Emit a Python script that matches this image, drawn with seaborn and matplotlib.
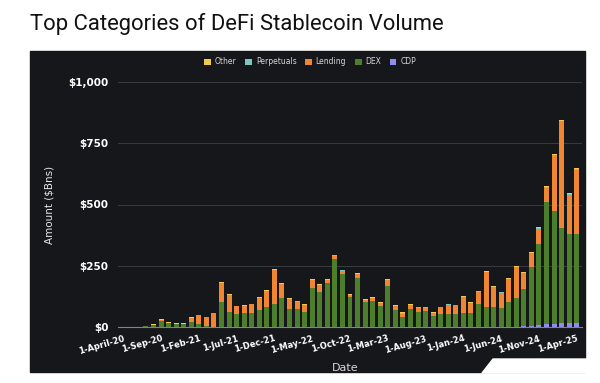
import matplotlib
matplotlib.use("Agg")
import matplotlib.pyplot as plt
from matplotlib.patches import Rectangle, Polygon
from matplotlib import font_manager
import numpy as np
import pandas as pd
import seaborn as sns

# monthly stablecoin volume by category, $Bns
months = pd.date_range("2020-04-01", "2025-04-01", freq="MS").strftime("%b-%y")
cdp = [0, 0, 0, 0, 0, 0, 0, 0, 0, 0, 0, 0, 0, 2, 0, 0, 0, 0, 0, 0,
       0, 0, 0, 0, 0, 2, 2, 1, 0, 0, 0, 0, 0, 0, 0, 0, 0, 0, 0, 0,
       0, 0, 0, 0, 0, 1, 1, 1, 1, 1, 1, 1, 2, 4, 6, 10, 12, 12, 16, 18, 16]
dex = [1, 1, 1, 3, 10, 25, 18, 13, 13, 19, 12, 4, 1, 99, 63, 53, 59, 59, 69, 80,
       93, 117, 74, 74, 61, 156, 142, 177, 278, 215, 121, 199, 102, 108, 86, 167, 69, 42, 72, 61,
       64, 45, 53, 52, 52, 56, 55, 93, 82, 82, 75, 100, 115, 151, 238, 329, 500, 462, 387, 362, 364]
lending = [0, 0, 0, 0, 0, 3, 0, 1, 1, 18, 36, 35, 57, 77, 66, 31, 26, 33, 48, 67,
           139, 57, 39, 30, 29, 34, 26, 13, 13, 15, 8, 16, 8, 9, 12, 24, 15, 13, 18, 18,
           15, 11, 27, 39, 36, 64, 43, 50, 140, 80, 64, 94, 128, 66, 58, 63, 54, 227, 437, 159, 261]
perps = [0, 0, 0, 0, 0, 0, 0, 0, 0, 0, 0, 0, 0, 1, 1, 1, 1, 1, 1, 1,
         1, 1, 1, 1, 1, 1, 1, 1, 1, 1, 1, 1, 1, 1, 1, 1, 1, 1, 1, 1,
         1, 1, 1, 1, 1, 1, 1, 1, 1, 1, 1, 1, 1, 1, 1, 2, 7, 2, 2, 3, 3]
other = [0, 0, 0, 2, 1, 3, 2, 1, 1, 2, 1, 0, 1, 3, 3, 2, 2, 2, 3, 3,
         3, 3, 3, 3, 3, 3, 3, 3, 3, 3, 3, 3, 3, 3, 3, 3, 3, 4, 4, 3,
         3, 3, 2, 2, 2, 3, 3, 3, 3, 3, 3, 3, 3, 3, 3, 3, 3, 4, 4, 4, 4]
tick_labels = ["1-April-20", "1-Sep-20", "1-Feb-21", "1-Jul-21", "1-Dec-21", "1-May-22",
               "1-Oct-22", "1-Mar-23", "1-Aug-23", "1-Jan-24", "1-Jun-24", "1-Nov-24", "1-Apr-25"]

series = ["CDP", "DEX", "Lending", "Perpetuals", "Other"]
colors = {"Other": "#f1c94c", "Perpetuals": "#7cc6c2", "Lending": "#f08632",
          "DEX": "#4c7e2c", "CDP": "#8f8cf2"}
DARK = "#16171b"

df = pd.DataFrame({"month": months, "CDP": cdp, "DEX": dex, "Lending": lending,
                   "Perpetuals": perps, "Other": other})
# cumulative tops so the layers can be overlaid as a stack
cum = df[series].cumsum(axis=1)
for s in series:
    df[s + "_top"] = cum[s]

sns.set_style("dark")
names = {f.name for f in font_manager.fontManager.ttflist}
title_font = "Liberation Sans Narrow" if "Liberation Sans Narrow" in names else "Roboto"

fig = plt.figure(figsize=(6, 3.83), dpi=100)
fig.patch.set_facecolor("white")
# dark card behind the chart, with the clipped lower-right corner of the screenshot
fig.patches.append(Rectangle((30 / 600, 11 / 383), 555 / 600, 321 / 383,
                             transform=fig.transFigure, color=DARK, zorder=-2))
fig.patches.append(Polygon([(482 / 600, 10 / 383), (493 / 600, 24 / 383), (590 / 600, 24 / 383),
                            (590 / 600, 10 / 383)], closed=True,
                           transform=fig.transFigure, color="white", zorder=-1))

ax = fig.add_axes([118 / 600, 56 / 383, 464 / 600, 245 / 383])
ax.set_facecolor(DARK)

for s in series[::-1]:
    sns.barplot(data=df, x="month", y=s + "_top", color=colors[s], saturation=1,
                width=0.66, linewidth=0, ax=ax, label=s)
handles, labels = ax.get_legend_handles_labels()
if ax.get_legend() is not None:
    ax.get_legend().remove()

ax.set_ylim(0, 1000)
ax.set_xlim(-0.7, 60.7)
ax.set_yticks([0, 250, 500, 750, 1000])
ax.set_yticklabels(["$0", "$250", "$500", "$750", "$1,000"], fontsize=7.5,
                   fontweight="bold", color="white")
ax.set_xticks(range(0, 61, 5))
ax.set_xticklabels(tick_labels, rotation=16, ha="right", rotation_mode="anchor",
                   fontsize=6, fontweight="bold", color="white")
ax.tick_params(axis="both", length=0)
ax.tick_params(axis="y", pad=7)
ax.tick_params(axis="x", pad=5)
ax.yaxis.grid(True, color="#393a3f", linewidth=0.8)
ax.xaxis.grid(False)
ax.set_axisbelow(True)
for sp in ["top", "right", "left"]:
    ax.spines[sp].set_visible(False)
ax.spines["bottom"].set_color("#7d8296")
ax.spines["bottom"].set_linewidth(0.8)
ax.set_ylabel("Amount ($Bns)", fontsize=7.5, color="#e6e6e6", labelpad=10)
ax.set_xlabel("Date", fontsize=8, color="#d8d8d8")
ax.xaxis.set_label_coords(0.49, -0.145)

fig.legend(handles, labels, loc="center", bbox_to_anchor=(0.517, 1 - 62 / 383), ncol=5,
           frameon=False, fontsize=5.5, labelcolor="#d6d6d6", handlelength=0.9,
           handleheight=0.9, handletextpad=0.5, columnspacing=1.1)

fig.text(30 / 600, 1 - 24 / 383, "Top Categories of DeFi Stablecoin Volume",
         fontsize=15.8, family=title_font, color="#111111", ha="left", va="center")

fig.savefig("out.png", dpi=100)
